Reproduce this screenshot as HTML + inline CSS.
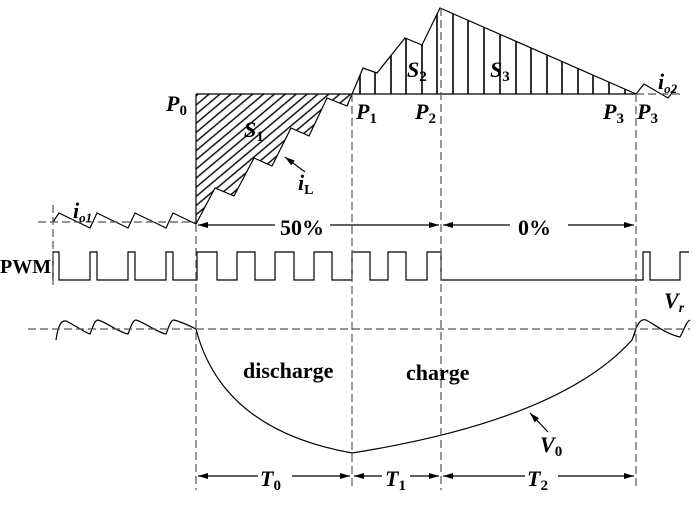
<!DOCTYPE html>
<html><head><meta charset="utf-8"><style>
html,body{margin:0;padding:0;background:#fff;}
svg{display:block;}
text{font-family:"Liberation Serif",serif;font-weight:bold;fill:#000;}
.it{font-style:italic;}
</style></head><body>
<svg width="700" height="509" viewBox="0 0 700 509" xmlns="http://www.w3.org/2000/svg">
<defs>
<pattern id="hp" width="7" height="7" patternUnits="userSpaceOnUse" patternTransform="rotate(-40)">
<line x1="0" y1="3.5" x2="7" y2="3.5" stroke="#000" stroke-width="1.4"/>
</pattern>
<clipPath id="c2"><polygon points="352,94 363,68 377,73 405,38 422,45 440,8 636,94"/></clipPath>
<marker id="ar" markerWidth="10" markerHeight="6" refX="10" refY="3" orient="auto" markerUnits="userSpaceOnUse"><path d="M0,0 L10,3 L0,6 Z" fill="#000"/></marker>
</defs>
<polygon points="196,94 352,94 348,106 327,98 309,136 291,128 272,166 254,158 234,196 215,188 196,224" fill="url(#hp)"/>
<g stroke="#000" stroke-width="1.6" clip-path="url(#c2)">
<path d="M360,94V0M375,94V0M391,94V0M406,94V0M422,94V0M437,94V0M453,94V0M468,94V0M484,94V0M500,94V0M516,94V0M531,94V0M547,94V0M562,94V0M578,94V0M593,94V0M609,94V0M625,94V0"/>
</g>
<g fill="none" stroke="#000" stroke-width="1.2">
<path d="M196,94 H636"/>
<path d="M196,94 V224"/>
<path d="M196,224 L215,188 L234,196 L254,158 L272,166 L291,128 L309,136 L327,98 L347,106 L363,68 L377,73 L405,38 L422,45 L440,8 L636,94"/>
<path d="M53,222 L59,213 L90,228 L97,213 L128,228 L135,213 L166,228 L173,213 L196,224"/>
<path d="M636,94 L644,84 L668,98 L676,88"/>
<path d="M53,280 V252 H59 V280 H90 V252 H97 V280 H128 V252 H135 V280 H166 V252 H173 V280 H197 V252 H217 V280 H237 V252 H255 V280 H275 V252 H294 V280 H314 V252 H332 V280 H352 V252 H370 V280 H388 V252 H406 V280 H427 V252 H441 V280 H643 V252 H650 V280 H680 V252 H689"/>
<path d="M56,340 C58,325 62,318 68,322 C76,326 84,332 90,334 C92,330 94,320 98,320 C106,322 118,332 128,334 C130,330 132,320 136,320 C144,322 156,332 166,334 C168,330 170,320 174,320 C182,322 190,326 196,329"/>
<path d="M196,329 Q222,430 352,453 Q560,420 632,340 L636,329"/>
<path d="M634,336 C636,326 640,318 646,320 C654,324 666,334 680,337 C684,330 686,322 690,320"/>
<path d="M305,172 L285,157" marker-end="url(#ar)"/>
<path d="M548,432 L530,413" marker-end="url(#ar)"/>
<path d="M275,225 H198" marker-end="url(#ar)"/>
<path d="M330,225 H439" marker-end="url(#ar)"/>
<path d="M510,225 H443" marker-end="url(#ar)"/>
<path d="M568,225 H634" marker-end="url(#ar)"/>
<path d="M258,476 H198" marker-end="url(#ar)"/>
<path d="M292,476 H350" marker-end="url(#ar)"/>
<path d="M382,476 H354" marker-end="url(#ar)"/>
<path d="M410,476 H439" marker-end="url(#ar)"/>
<path d="M525,476 H443" marker-end="url(#ar)"/>
<path d="M558,476 H634" marker-end="url(#ar)"/>
</g>
<g fill="none" stroke="#555" stroke-width="1.2" stroke-dasharray="8,4">
<path d="M38,222 H196"/>
<path d="M636,94 H682"/>
<path d="M28,329 H690"/>
<path d="M53,205 V285"/>
<path d="M196,224 V490"/>
<path d="M352,94 V490"/>
<path d="M441,8 V490"/>
<path d="M636,94 V490"/>
</g>
<g font-size="22">
<text x="166" y="111" class="it">P<tspan font-size="15" dy="4" font-style="normal">0</tspan></text>
<text x="244" y="137" class="it">S<tspan font-size="15" dy="4" font-style="normal">1</tspan></text>
<text x="356" y="119" class="it">P<tspan font-size="15" dy="4" font-style="normal">1</tspan></text>
<text x="415" y="119" class="it">P<tspan font-size="15" dy="4" font-style="normal">2</tspan></text>
<text x="407" y="77" class="it">S<tspan font-size="15" dy="4" font-style="normal">2</tspan></text>
<text x="490" y="77" class="it">S<tspan font-size="15" dy="4" font-style="normal">3</tspan></text>
<text x="603" y="119" class="it">P<tspan font-size="15" dy="4" font-style="normal">3</tspan></text>
<text x="637" y="119" class="it">P<tspan font-size="15" dy="4" font-style="normal">3</tspan></text>
<text x="298" y="190" class="it">i<tspan font-size="14" dy="4" font-style="normal">L</tspan></text>
<text x="73" y="218" class="it">i<tspan font-size="13" dy="4">o1</tspan></text>
<text x="658" y="89" class="it">i<tspan font-size="13" dy="4">o2</tspan></text>
<text x="280" y="235" font-size="22">50%</text>
<text x="518" y="235" font-size="22">0%</text>
<text x="0" y="273" font-size="20">PWM</text>
<text x="243" y="378" font-size="22">discharge</text>
<text x="406" y="380" font-size="22">charge</text>
<text x="664" y="308" class="it">V<tspan font-size="14" dy="4">r</tspan></text>
<text x="540" y="452" class="it">V<tspan font-size="15" dy="4" font-style="normal">0</tspan></text>
<text x="260" y="486" class="it">T<tspan font-size="15" dy="4" font-style="normal">0</tspan></text>
<text x="385" y="486" class="it">T<tspan font-size="15" dy="4" font-style="normal">1</tspan></text>
<text x="527" y="486" class="it">T<tspan font-size="15" dy="4" font-style="normal">2</tspan></text>
</g>
</svg>
</body></html>
